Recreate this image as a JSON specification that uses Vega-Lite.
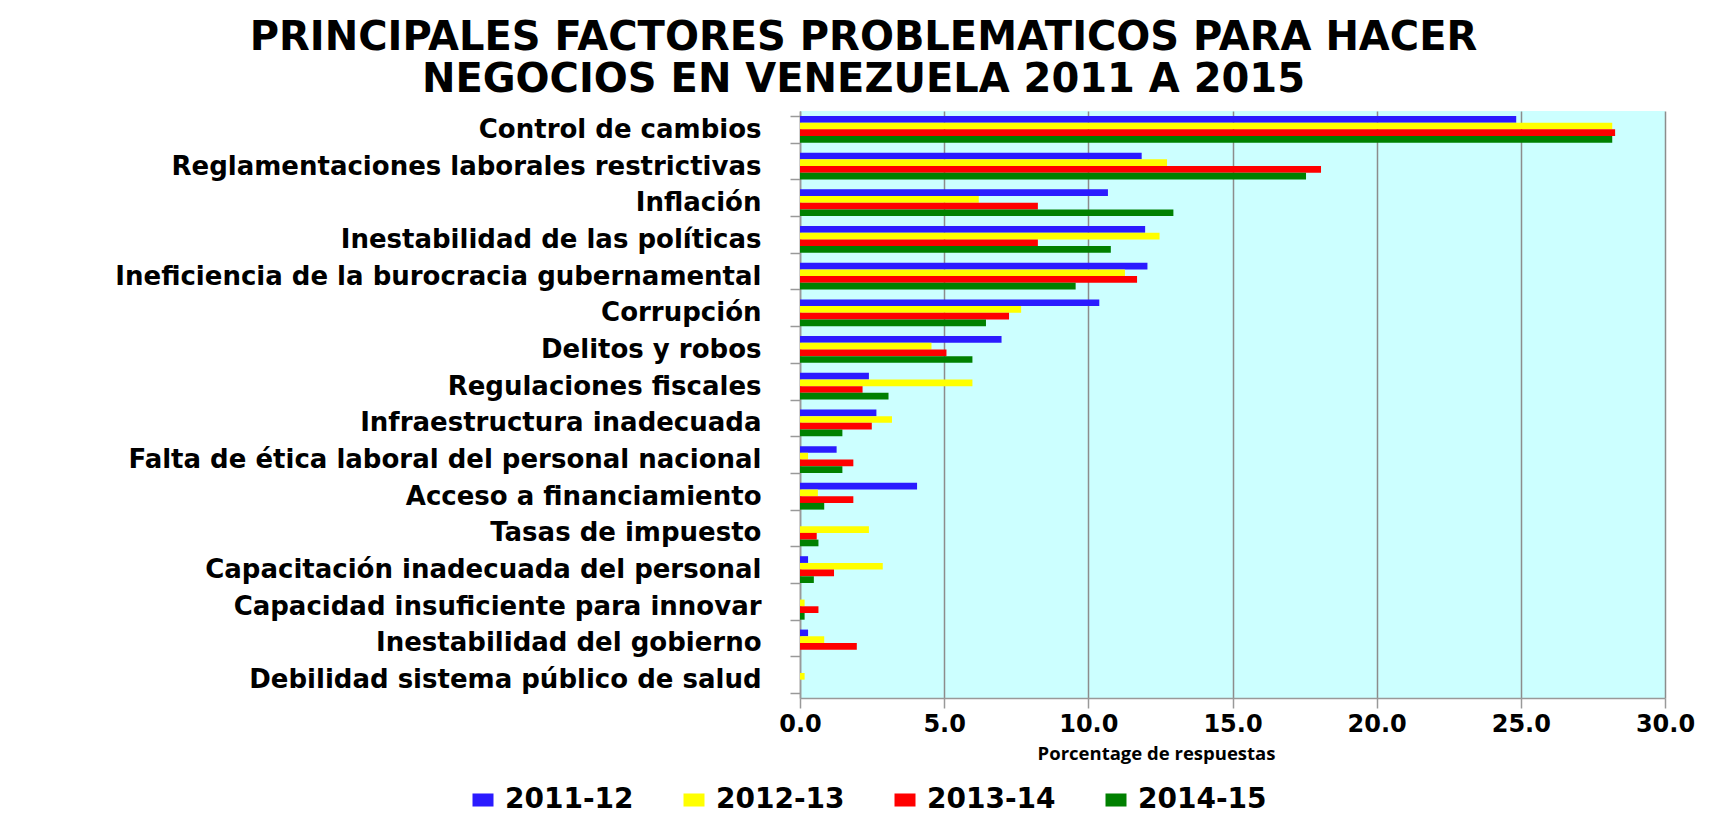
{
  "$schema": "https://vega.github.io/schema/vega-lite/v6.json",
  "width": 865,
  "height": 587,
  "autosize": {"type": "none"},
  "padding": {"left": 800, "top": 111, "right": 56, "bottom": 122},
  "background": "white",
  "title": {
    "text": ["PRINCIPALES FACTORES PROBLEMATICOS PARA HACER", "NEGOCIOS EN VENEZUELA 2011 A 2015"],
    "font": "DejaVu Sans",
    "fontWeight": "bold",
    "fontSize": 40,
    "lineHeight": 42,
    "color": "#000000",
    "anchor": "middle",
    "frame": "group",
    "dx": -369,
    "offset": -2
  },
  "config": {
    "view": {"stroke": null, "fill": "#CCFFFF"}
  },
  "data": {
    "values": [
      {"factor": "Control de cambios", "period": "2011-12", "value": 24.84},
      {"factor": "Control de cambios", "period": "2012-13", "value": 28.17},
      {"factor": "Control de cambios", "period": "2013-14", "value": 28.27},
      {"factor": "Control de cambios", "period": "2014-15", "value": 28.17},
      {"factor": "Reglamentaciones laborales restrictivas", "period": "2011-12", "value": 11.85},
      {"factor": "Reglamentaciones laborales restrictivas", "period": "2012-13", "value": 12.73},
      {"factor": "Reglamentaciones laborales restrictivas", "period": "2013-14", "value": 18.07},
      {"factor": "Reglamentaciones laborales restrictivas", "period": "2014-15", "value": 17.55},
      {"factor": "Inflación", "period": "2011-12", "value": 10.68},
      {"factor": "Inflación", "period": "2012-13", "value": 6.2},
      {"factor": "Inflación", "period": "2013-14", "value": 8.25},
      {"factor": "Inflación", "period": "2014-15", "value": 12.95},
      {"factor": "Inestabilidad de las políticas", "period": "2011-12", "value": 11.97},
      {"factor": "Inestabilidad de las políticas", "period": "2012-13", "value": 12.47},
      {"factor": "Inestabilidad de las políticas", "period": "2013-14", "value": 8.25},
      {"factor": "Inestabilidad de las políticas", "period": "2014-15", "value": 10.78},
      {"factor": "Ineficiencia de la burocracia gubernamental", "period": "2011-12", "value": 12.05},
      {"factor": "Ineficiencia de la burocracia gubernamental", "period": "2012-13", "value": 11.27},
      {"factor": "Ineficiencia de la burocracia gubernamental", "period": "2013-14", "value": 11.69},
      {"factor": "Ineficiencia de la burocracia gubernamental", "period": "2014-15", "value": 9.56},
      {"factor": "Corrupción", "period": "2011-12", "value": 10.38},
      {"factor": "Corrupción", "period": "2012-13", "value": 7.67},
      {"factor": "Corrupción", "period": "2013-14", "value": 7.25},
      {"factor": "Corrupción", "period": "2014-15", "value": 6.45},
      {"factor": "Delitos y robos", "period": "2011-12", "value": 6.99},
      {"factor": "Delitos y robos", "period": "2012-13", "value": 4.56},
      {"factor": "Delitos y robos", "period": "2013-14", "value": 5.08},
      {"factor": "Delitos y robos", "period": "2014-15", "value": 5.98},
      {"factor": "Regulaciones fiscales", "period": "2011-12", "value": 2.39},
      {"factor": "Regulaciones fiscales", "period": "2012-13", "value": 5.98},
      {"factor": "Regulaciones fiscales", "period": "2013-14", "value": 2.17},
      {"factor": "Regulaciones fiscales", "period": "2014-15", "value": 3.07},
      {"factor": "Infraestructura inadecuada", "period": "2011-12", "value": 2.65},
      {"factor": "Infraestructura inadecuada", "period": "2012-13", "value": 3.19},
      {"factor": "Infraestructura inadecuada", "period": "2013-14", "value": 2.49},
      {"factor": "Infraestructura inadecuada", "period": "2014-15", "value": 1.47},
      {"factor": "Falta de ética laboral del personal nacional", "period": "2011-12", "value": 1.27},
      {"factor": "Falta de ética laboral del personal nacional", "period": "2012-13", "value": 0.28},
      {"factor": "Falta de ética laboral del personal nacional", "period": "2013-14", "value": 1.85},
      {"factor": "Falta de ética laboral del personal nacional", "period": "2014-15", "value": 1.47},
      {"factor": "Acceso a financiamiento", "period": "2011-12", "value": 4.06},
      {"factor": "Acceso a financiamiento", "period": "2012-13", "value": 0.62},
      {"factor": "Acceso a financiamiento", "period": "2013-14", "value": 1.85},
      {"factor": "Acceso a financiamiento", "period": "2014-15", "value": 0.84},
      {"factor": "Tasas de impuesto", "period": "2011-12", "value": 0},
      {"factor": "Tasas de impuesto", "period": "2012-13", "value": 2.39},
      {"factor": "Tasas de impuesto", "period": "2013-14", "value": 0.58},
      {"factor": "Tasas de impuesto", "period": "2014-15", "value": 0.64},
      {"factor": "Capacitación inadecuada del personal", "period": "2011-12", "value": 0.28},
      {"factor": "Capacitación inadecuada del personal", "period": "2012-13", "value": 2.87},
      {"factor": "Capacitación inadecuada del personal", "period": "2013-14", "value": 1.18},
      {"factor": "Capacitación inadecuada del personal", "period": "2014-15", "value": 0.48},
      {"factor": "Capacidad insuficiente para innovar", "period": "2011-12", "value": 0},
      {"factor": "Capacidad insuficiente para innovar", "period": "2012-13", "value": 0.16},
      {"factor": "Capacidad insuficiente para innovar", "period": "2013-14", "value": 0.64},
      {"factor": "Capacidad insuficiente para innovar", "period": "2014-15", "value": 0.16},
      {"factor": "Inestabilidad del gobierno", "period": "2011-12", "value": 0.28},
      {"factor": "Inestabilidad del gobierno", "period": "2012-13", "value": 0.84},
      {"factor": "Inestabilidad del gobierno", "period": "2013-14", "value": 1.97},
      {"factor": "Inestabilidad del gobierno", "period": "2014-15", "value": 0},
      {"factor": "Debilidad sistema público de salud", "period": "2011-12", "value": 0},
      {"factor": "Debilidad sistema público de salud", "period": "2012-13", "value": 0.16},
      {"factor": "Debilidad sistema público de salud", "period": "2013-14", "value": 0},
      {"factor": "Debilidad sistema público de salud", "period": "2014-15", "value": 0}
    ]
  },
  "mark": {"type": "bar"},
  "encoding": {
    "y": {
      "field": "factor",
      "type": "nominal",
      "sort": null,
      "scale": {"paddingInner": 0.27, "paddingOuter": 0.135},
      "axis": {
        "title": null,
        "labelFont": "DejaVu Sans",
        "labelFontWeight": "bold",
        "labelFontSize": 26,
        "labelColor": "#000000",
        "labelLimit": 900,
        "labelPadding": 29,
        "tickBand": "extent",
        "tickSize": 10,
        "tickColor": "#999999",
        "tickWidth": 1.5,
        "domainColor": "#999999",
        "domainWidth": 1.5
      }
    },
    "yOffset": {
      "field": "period",
      "type": "nominal",
      "sort": ["2011-12", "2012-13", "2013-14", "2014-15"],
      "scale": {"paddingInner": 0, "paddingOuter": 0}
    },
    "x": {
      "field": "value",
      "type": "quantitative",
      "scale": {"domain": [0, 30], "nice": false},
      "axis": {
        "title": "Porcentage de respuestas",
        "titleX": 356,
        "values": [0, 5, 10, 15, 20, 25, 30],
        "format": ".1f",
        "labelFlush": false,
        "labelOverlap": false,
        "labelFont": "DejaVu Sans",
        "labelFontWeight": "bold",
        "labelFontSize": 24,
        "labelColor": "#000000",
        "labelPadding": 4,
        "titleFont": "Open Sans",
        "titleFontWeight": "bold",
        "titleFontSize": 18.5,
        "titleColor": "#000000",
        "titlePadding": 8,
        "grid": true,
        "gridColor": "#8C8C8C",
        "gridWidth": 1.5,
        "tickColor": "#999999",
        "tickSize": 10,
        "tickWidth": 1.5,
        "domainColor": "#999999",
        "domainWidth": 1.5
      }
    },
    "color": {
      "field": "period",
      "type": "nominal",
      "sort": ["2011-12", "2012-13", "2013-14", "2014-15"],
      "scale": {
        "domain": ["2011-12", "2012-13", "2013-14", "2014-15"],
        "range": ["#2B1BFF", "#FFFF00", "#FF0000", "#008000"]
      },
      "legend": {
        "title": null,
        "orient": "none",
        "direction": "horizontal",
        "legendX": -331,
        "legendY": 675,
        "symbolType": "M-1,-0.62L1,-0.62L1,0.62L-1,0.62Z",
        "symbolSize": 441,
        "symbolStrokeWidth": 0,
        "symbolOpacity": 1,
        "labelFont": "DejaVu Sans",
        "labelFontWeight": "bold",
        "labelFontSize": 28,
        "labelColor": "#000000",
        "labelOffset": 8,
        "columnPadding": 46
      }
    }
  }
}
